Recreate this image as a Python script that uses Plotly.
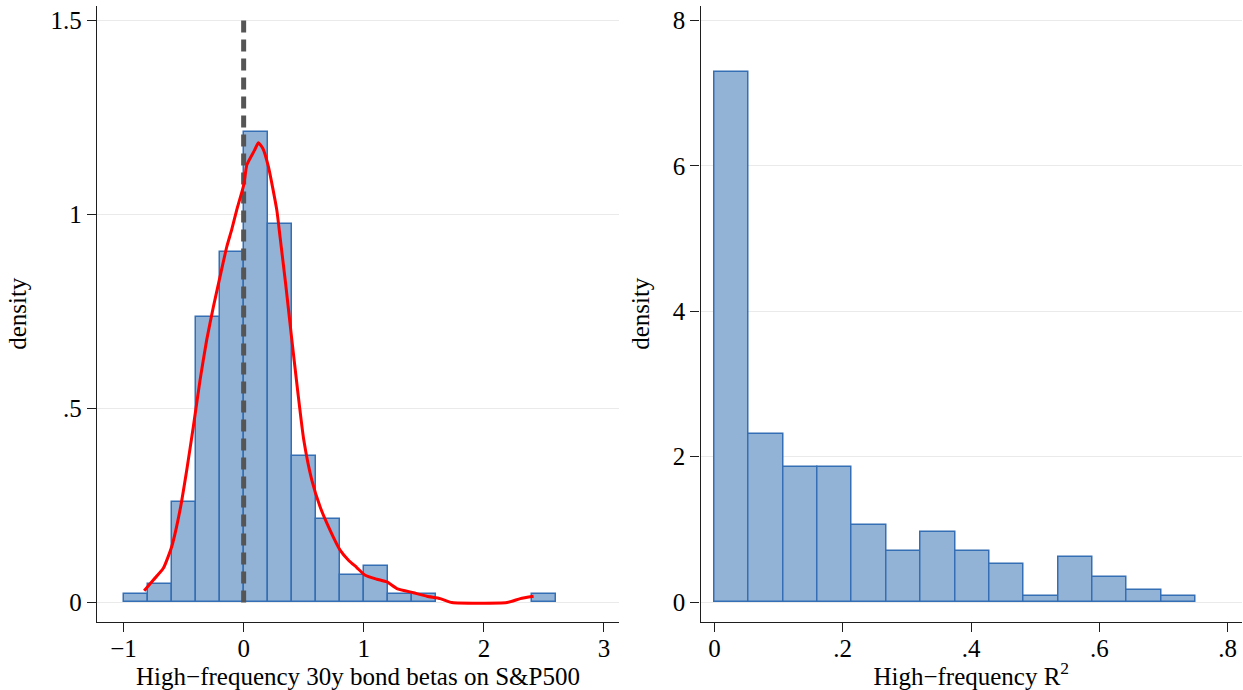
import plotly.graph_objects as go

# ---------------- data ----------------
# Left panel: histogram of high-frequency 30y bond betas on S&P500 (density)
beta_bin_left = [-1.0, -0.8, -0.6, -0.4, -0.2, 0.0, 0.2, 0.4, 0.6, 0.8, 1.0, 1.2, 1.4, 2.4]
beta_density = [0.023, 0.047, 0.259, 0.736, 0.903, 1.213, 0.975, 0.378, 0.215, 0.070, 0.094, 0.023, 0.023, 0.023]
beta_bin_width = 0.2

# kernel density estimate
kde_x = [-0.828, -0.752, -0.669, -0.60, -0.53, -0.474, -0.419, -0.363, -0.308, -0.252,
         -0.197, -0.141, -0.10, -0.058, 0.0, 0.026, 0.053, 0.090, 0.1225, 0.16, 0.206,
         0.276, 0.303, 0.35, 0.40, 0.45, 0.50, 0.567, 0.637, 0.72, 0.803, 0.873, 0.942,
         1.012, 1.109, 1.193, 1.276, 1.414, 1.526, 1.637, 1.734, 2.193, 2.303, 2.414]
kde_y = [0.030, 0.058, 0.088, 0.143, 0.238, 0.341, 0.453, 0.573, 0.676, 0.762,
         0.839, 0.916, 0.96, 1.011, 1.075, 1.127, 1.144, 1.165, 1.1845, 1.17, 1.123,
         1.011, 0.942, 0.82, 0.68, 0.545, 0.42, 0.316, 0.246, 0.186, 0.135, 0.109, 0.090,
         0.070, 0.060, 0.053, 0.036, 0.025, 0.016, 0.010, 0.0, 0.0, 0.010, 0.016]

ref_line_x = 0.0
ref_line_y = [0.0, 1.5]

# Right panel: histogram of high-frequency R^2 (density)
r2_bin_left = [0.0, 0.0536, 0.1071, 0.1607, 0.2143, 0.2679, 0.3214, 0.375,
               0.4286, 0.4821, 0.5357, 0.5893, 0.6429, 0.6964]
r2_density = [7.29, 2.31, 1.86, 1.86, 1.06, 0.70, 0.97, 0.70, 0.52, 0.08, 0.615, 0.345, 0.17, 0.08]
r2_bin_width = 0.75 / 14

# tick labels
left_xticks = [-1, 0, 1, 2, 3]
left_xtick_text = ["\u22121", "0", "1", "2", "3"]
left_yticks = [0, 0.5, 1, 1.5]
left_ytick_text = ["0", ".5", "1", "1.5"]
right_xticks = [0, 0.2, 0.4, 0.6, 0.8]
right_xtick_text = ["0", ".2", ".4", ".6", ".8"]
right_yticks = [0, 2, 4, 6, 8]
right_ytick_text = ["0", "2", "4", "6", "8"]

# ---------------- styling ----------------
FONT = "Liberation Serif, Times New Roman, serif"
BAR_FILL = "rgb(146,179,214)"
BAR_EDGE = "rgb(52,110,180)"
GRID = "rgb(234,234,234)"
AXIS = "rgb(30,30,30)"
TICK_SIZE = 25
TITLE_SIZE = 25

fig = go.Figure()

fig.add_trace(go.Bar(
    x=beta_bin_left, y=beta_density, width=beta_bin_width, offset=0,
    marker=dict(color=BAR_FILL, line=dict(color=BAR_EDGE, width=1.5)),
    xaxis="x", yaxis="y", showlegend=False, hoverinfo="skip"))

fig.add_trace(go.Scatter(
    x=[ref_line_x, ref_line_x], y=ref_line_y, mode="lines",
    line=dict(color="rgb(85,85,85)", width=5, dash="12px,7px"),
    xaxis="x", yaxis="y", showlegend=False, hoverinfo="skip"))

fig.add_trace(go.Scatter(
    x=kde_x, y=kde_y, mode="lines",
    line=dict(color="rgb(255,0,0)", width=3, shape="spline", smoothing=0.5),
    xaxis="x", yaxis="y", showlegend=False, hoverinfo="skip"))

fig.add_trace(go.Bar(
    x=r2_bin_left, y=r2_density, width=r2_bin_width, offset=0,
    marker=dict(color=BAR_FILL, line=dict(color=BAR_EDGE, width=1.5)),
    xaxis="x2", yaxis="y2", showlegend=False, hoverinfo="skip"))

W, H = 1243, 690
ydom = [1 - 621.5 / H, 1 - 6 / H]

common_axis = dict(
    showline=True, linecolor=AXIS, linewidth=1.3,
    ticks="outside", ticklen=9, tickwidth=1.2, tickcolor=AXIS,
    tickfont=dict(family=FONT, size=TICK_SIZE, color="black"),
    zeroline=False, automargin=False,
)

fig.update_layout(
    width=W, height=H,
    margin=dict(l=0, r=0, t=0, b=0),
    paper_bgcolor="white", plot_bgcolor="white",
    bargap=0,
    font=dict(family=FONT, size=TICK_SIZE, color="black"),
    xaxis=dict(domain=[97 / W, 619 / W], range=[-1.221, 3.125], anchor="y",
               tickmode="array", tickvals=left_xticks, ticktext=left_xtick_text,
               showgrid=False, ticklabelstandoff=-5,
               title=dict(text="High\u2212frequency 30y bond betas on S&P500",
                          font=dict(family=FONT, size=TITLE_SIZE), standoff=6),
               **common_axis),
    yaxis=dict(domain=ydom, range=[-0.049, 1.537], anchor="x",
               tickmode="array", tickvals=left_yticks, ticktext=left_ytick_text,
               showgrid=True, gridcolor=GRID, gridwidth=1,
               title=dict(text="density", font=dict(family=FONT, size=TITLE_SIZE), standoff=16),
               **common_axis),
    xaxis2=dict(domain=[700.5 / W, 1242 / W], range=[-0.0217, 0.8223], anchor="y2",
                tickmode="array", tickvals=right_xticks, ticktext=right_xtick_text,
                showgrid=False, ticklabelstandoff=-5,
                title=dict(text="High\u2212frequency R<sup>2</sup>",
                           font=dict(family=FONT, size=TITLE_SIZE), standoff=6),
                **common_axis),
    yaxis2=dict(domain=ydom, range=[-0.265, 8.196], anchor="x2",
                tickmode="array", tickvals=right_yticks, ticktext=right_ytick_text,
                showgrid=True, gridcolor=GRID, gridwidth=1,
                title=dict(text="density", font=dict(family=FONT, size=TITLE_SIZE), standoff=16),
                **common_axis),
)

# remove the default page margin so the figure fills the window exactly
fig.write_html("out.html",
               config={"displayModeBar": False},
               post_script="document.body.style.margin='0';document.body.style.overflow='hidden';")
